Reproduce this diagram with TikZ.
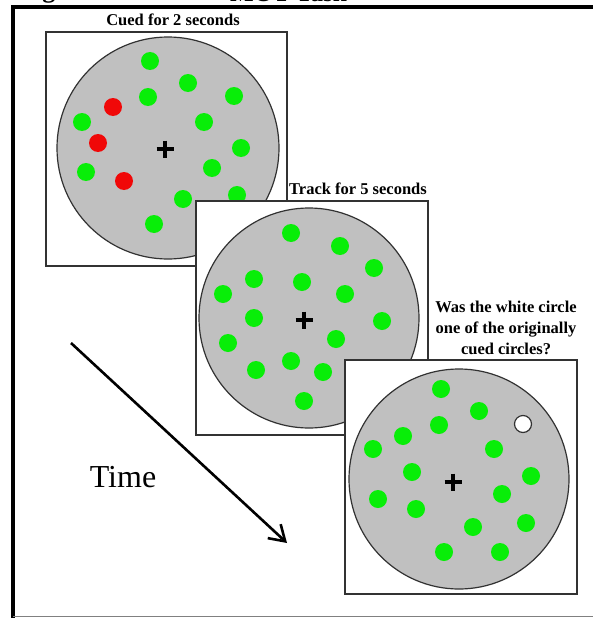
\documentclass[tikz,border=0pt]{standalone}
\usepackage{fontspec}
\setmainfont{Liberation Serif}
\usetikzlibrary{arrows.meta}
\definecolor{dotgreen}{RGB}{8,238,8}
\definecolor{dotred}{RGB}{240,8,8}
\definecolor{discgray}{RGB}{192,192,192}
\definecolor{edgegray}{RGB}{50,50,50}
\begin{document}
\begin{tikzpicture}[x=1pt,y=-1pt,
  panelbox/.style={draw=edgegray, line width=1.3pt, fill=white, inner sep=0pt, outer sep=0pt},
  discbox/.style={circle, draw=edgegray, line width=1.2pt, fill=discgray, inner sep=0pt, outer sep=0pt, minimum size=#1},
  lab/.style={font=\bfseries\fontsize{16.5}{21}\selectfont, inner sep=0pt, align=center},
  fixation/.pic={\draw[line width=3.3pt] (-8.5,0) -- (8.5,0) (0,-8.5) -- (0,8.5);}
]
\useasboundingbox (0,0) rectangle (592,618);
\fill[white] (0,0) rectangle (592,618);

% cut-off title
\begin{scope}
\clip (0,0) rectangle (592,618);
\node[anchor=base west, inner sep=0pt, font=\bfseries\fontsize{26}{26}\selectfont] (figtitle) at (19,-2.5) {Figure};
\node[anchor=base west, inner sep=0pt, font=\bfseries\fontsize{25}{25}\selectfont] (mottitle) at (230,1.5) {MOT Task};
\end{scope}

% outer frame
\draw[line width=3.4pt] (13,620) -- (13,7) -- (594,7);
\draw[gray, line width=1.4pt] (13,616.5) -- (594,616.5);

% panel 1
\node[lab] (lab1) at (173,20) {Cued for 2 seconds};
\node[panelbox, minimum width=241pt, minimum height=234pt] (p1) at (166.5,149) {};
\node[discbox=222pt] (d1) at (168,148) {};
\foreach \x/\y in {150/61,188/83,148/97,234/96,82/122,204/122,241/148,86/172,212/168,183/199,237/195,154/224}
  \fill[dotgreen] (\x,\y) circle[radius=9pt];
\foreach \x/\y in {113/107,98/143,124/181}
  \fill[dotred] (\x,\y) circle[radius=9pt];
\pic at (165,149) {fixation};

% panel 2
\node[lab] (lab2) at (358,189) {Track for 5 seconds};
\node[panelbox, minimum width=232pt, minimum height=234pt] (p2) at (312,318) {};
\node[discbox=220pt] (d2) at (309,318) {};
\foreach \x/\y in {291/233,340/246,374/268,254/279,302/282,345/294,223/294,382/321,254/318,336/339,228/343,291/361,256/370,323/372,304/401}
  \fill[dotgreen] (\x,\y) circle[radius=9pt];
\pic at (304,320) {fixation};

% panel 3
\node[lab] (lab3) at (506,328) {Was the white circle\\one of the originally\\cued circles?};
\node[panelbox, minimum width=232pt, minimum height=234pt] (p3) at (461,477) {};
\node[discbox=220pt] (d3) at (459,479) {};
\foreach \x/\y in {441/389,479/411,439/425,403/436,373/449,494/449,412/472,531/476,502/494,378/499,416/509,526/523,473/527,444/552,500/552}
  \fill[dotgreen] (\x,\y) circle[radius=9pt];
\filldraw[fill=white, draw=edgegray, line width=1.2pt] (523,424) circle[radius=8.5pt];
\pic at (453,482) {fixation};

% time arrow
\coordinate (tstart) at (71,343);
\coordinate (tend) at (287,543);
\draw[line width=2.6pt, -{Straight Barb[length=15pt,width=19pt,line width=2.6pt]}] (tstart) -- (tend);
\node[font=\fontsize{32}{32}\selectfont, inner sep=0pt] (timelab) at (123,477) {Time};
\end{tikzpicture}
\end{document}
